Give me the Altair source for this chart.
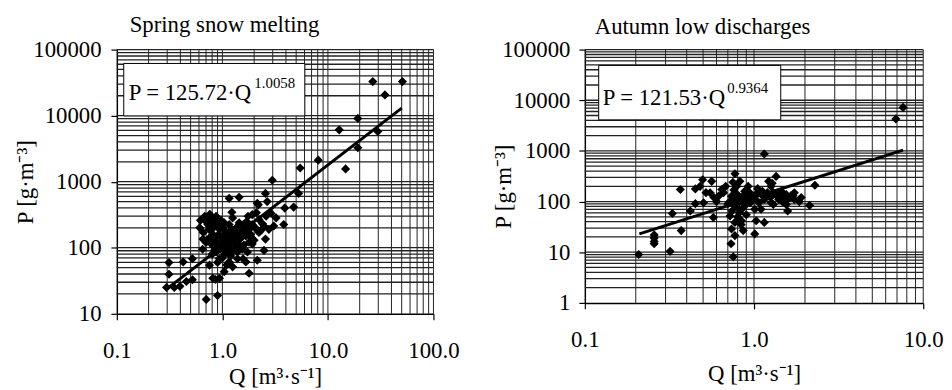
import altair as alt
import pandas as pd

FONT = "Liberation Serif"

# ---------------- Spring snow melting ----------------
spring_q = [26.6, 50.8, 34.7, 19.2, 12.8, 29.7, 19.2, 14.7, 8.1, 5.46, 2.97, 5.27, 4.73, 3.90,
            3.81, 2.56, 2.14, 1.44, 1.16, 0.61,
            0.312, 0.312, 0.296, 0.425, 0.52, 0.396, 0.35, 0.52, 0.703, 0.90, 0.94, 0.86, 0.755,
            1.25, 1.79, 2.14, 1.57, 0.456,
            1.23, 3.23, 1.92, 2.66, 2.19, 0.873, 0.729, 0.811, 0.937, 1.16, 1.30, 1.01, 0.873,
            1.12, 1.44, 1.67, 1.92, 2.22, 2.56, 2.76, 3.07, 2.48, 1.04, 0.811, 1.34, 1.55, 1.16,
            1.39, 1.92, 1.73, 1.01, 0.783, 0.654, 0.937, 2.22, 1.67, 1.44, 1.25, 1.04, 0.842,
            0.79, 0.895, 1.08, 1.22, 1.48, 1.79, 1.16, 0.96, 1.39, 1.67,
            0.70, 0.75, 0.66, 1.10, 1.30, 0.98, 1.60, 1.85, 2.0, 1.2, 0.85, 1.05, 2.4, 2.9, 0.65,
            0.62, 0.68, 0.72, 0.78, 0.82, 0.88, 0.92, 0.97, 1.02, 1.07, 1.15, 1.2, 1.28, 1.35,
            1.4, 1.5, 1.55, 1.62, 1.7, 1.8, 1.9, 2.05, 2.3, 2.5, 0.85, 0.9, 0.95, 1.0, 1.05,
            1.12, 1.18, 1.27, 1.45, 1.6, 0.75, 0.7, 0.8, 1.0, 1.1, 0.9, 2.6, 2.1, 1.75, 0.76]
spring_p = [32800, 32800, 20600, 9080, 6100, 5750, 3270, 1560, 2120, 1610, 1050, 664, 412, 398,
            225, 664, 472, 579, 560, 201,
            59.6, 39.6, 25.1, 61, 68, 26, 25, 32.7, 16.5, 18.9, 34.5, 33, 54.5,
            51.4, 41, 64.6, 68, 30.8,
            344, 283, 317, 500, 446, 300, 225, 160, 190, 225, 151, 114, 86,
            86, 135, 151, 225, 170, 135, 190, 213, 91, 43.4, 34.5, 108, 96, 61,
            86, 114, 86, 151, 114, 135, 68, 267, 213, 239, 283, 239, 225,
            267, 151, 170, 190, 170, 121, 108, 96, 68, 61,
            250, 190, 170, 130, 120, 200, 190, 160, 130, 75, 95, 80, 230, 330, 95,
            260, 300, 280, 240, 200, 260, 230, 260, 200, 140, 160, 140, 175, 200,
            160, 140, 220, 175, 250, 190, 140, 200, 180, 210, 130, 110, 150, 125, 100,
            120, 95, 90, 110, 110, 140, 120, 80, 70, 55, 60, 300, 340, 300, 320]
spring_line_q = [0.3, 50]
spring_line_p = [24, 13000]
spring_x_ticks = [0.1, 1, 10, 100]
spring_y_ticks = [10, 100, 1000, 10000, 100000]

# ---------------- Autumn low discharges ----------------
autumn_q = [7.6, 6.89, 1.15, 0.208, 0.257, 0.257, 0.257, 0.257, 0.319, 0.371, 0.329, 0.367,
            0.45, 0.497, 0.562, 0.55, 0.644, 0.617, 0.45, 0.503, 0.42, 0.575, 0.771, 0.825,
            0.736, 0.805, 0.721, 0.771, 0.843, 0.736, 0.771, 0.863, 0.731, 0.754, 0.944, 0.881,
            1.01, 1.03, 1.01, 1.15, 1.10, 1.13, 1.26, 1.35, 1.22, 1.15, 1.37, 1.45, 1.55, 1.55,
            1.73, 1.73, 1.58, 2.13, 2.29, 1.05, 0.923, 1.26, 1.30,
            0.78, 0.80, 0.84, 0.76, 0.82, 0.88, 0.70, 0.79, 0.86, 0.74, 0.90, 0.95, 1.2, 1.4,
            1.5, 1.65, 1.85, 0.68, 0.60,
            0.72, 0.77, 0.79, 0.81, 0.83, 0.86, 0.89, 0.92, 0.97, 1.02, 1.07, 1.12, 1.18, 1.25,
            1.3, 1.42, 1.47, 1.6, 1.7, 1.9, 1.28, 1.05, 0.75, 0.8, 0.84, 0.9, 0.66, 0.58, 0.52, 0.48]
autumn_p = [7220, 4280, 867, 9.0, 22, 19, 16.3, 14.7, 10.4, 26.7, 58, 173,
            178, 270, 251, 149, 173, 128, 91, 95, 65, 48.6, 354, 251,
            128, 95, 52, 38.8, 41.8, 28.8, 21.3, 26.7, 14.7, 8.1, 149, 82,
            70.5, 41.8, 23, 38.8, 70.5, 128, 200, 314, 251, 110, 128, 160, 138, 88,
            149, 110, 65, 84, 210, 149, 200, 95, 88,
            110, 75, 120, 170, 60, 160, 90, 140, 100, 65, 120, 95, 150, 110,
            120, 130, 100, 200, 100,
            100, 85, 200, 130, 105, 75, 140, 110, 130, 110, 95, 160, 140, 120,
            150, 140, 100, 115, 130, 120, 230, 180, 240, 50, 35, 55, 150, 120, 150, 200]
autumn_line_q = [0.21, 7.6]
autumn_line_p = [23, 1040]
autumn_x_ticks = [0.1, 1, 10]
autumn_y_ticks = [1, 10, 100, 1000, 10000, 100000]

grid_multipliers = [2, 3, 4, 5, 6, 7, 8, 9, 10]

X_TITLE = "Q [m³·s⁻¹]"
Y_TITLE = "P [g·m⁻³]"


def grid_values(ticks):
    return [d * m for d in ticks[:-1] for m in grid_multipliers]


def panel(q, p, lq, lp, xt, yt, title, coef_text, exp_text, w, h, L):
    xs = alt.Scale(type="log", domain=[xt[0], xt[-1]], nice=False)
    ys = alt.Scale(type="log", domain=[yt[0], yt[-1]], nice=False)
    common = dict(grid=False, tickSize=6, labelFont=FONT, titleFont=FONT, labelFontSize=23,
                  titleFontSize=23, labelColor="black", titleColor="black",
                  titleFontWeight="normal", domainColor="black", tickColor="black",
                  domainWidth=1.5, tickWidth=1.2)
    xa = alt.Axis(values=xt, format=".1f", title=X_TITLE, labelPadding=L["xlp"],
                  titleY=L["xty"], labelFlush=False, **common)
    ya = alt.Axis(values=yt, format="d", title=Y_TITLE, labelPadding=L["ylp"],
                  titleX=L["ytx"], titleY=h / 2 + L["yty"], **common)
    X = lambda f: alt.X(f, type="quantitative", scale=xs, axis=xa)
    Y = lambda f: alt.Y(f, type="quantitative", scale=ys, axis=ya)

    vgrid = alt.Chart(pd.DataFrame({"q": grid_values(xt)})).mark_rule(
        color="#222222", strokeWidth=1).encode(x=X("q"))
    hgrid = alt.Chart(pd.DataFrame({"p": grid_values(yt)})).mark_rule(
        color="#222222", strokeWidth=1.3).encode(y=Y("p"))
    line = alt.Chart(pd.DataFrame({"q": lq, "p": lp})).mark_line(
        color="black", strokeWidth=3).encode(x=X("q"), y=Y("p"))
    pts = alt.Chart(pd.DataFrame({"q": q, "p": p})).mark_point(
        shape="diamond", filled=True, color="black", size=85, opacity=1).encode(x=X("q"), y=Y("p"))
    one = pd.DataFrame({"a": [0]})
    bx = L["box"]
    box = alt.Chart(one).mark_rect(fill="white", stroke="black", strokeWidth=1).encode(
        x=alt.value(bx[0]), x2=alt.value(bx[2]), y=alt.value(bx[1]), y2=alt.value(bx[3]))
    eq = alt.Chart(one).mark_text(font=FONT, fontSize=23, align="left", baseline="alphabetic",
                                  color="black", text=coef_text).encode(
        x=alt.value(L["eq"][0]), y=alt.value(L["eq"][1]))
    sup = alt.Chart(one).mark_text(font=FONT, fontSize=15, align="left", baseline="alphabetic",
                                   color="black", text=exp_text).encode(
        x=alt.value(L["sup"][0]), y=alt.value(L["sup"][1]))
    ttl = alt.Chart(one).mark_text(font=FONT, fontSize=23, align="left", baseline="alphabetic",
                                   color="black", text=title).encode(
        x=alt.value(L["title"][0]), y=alt.value(L["title"][1]))
    return alt.layer(vgrid, hgrid, line, pts, box, eq, sup, ttl).properties(width=w, height=h)


left = panel(spring_q, spring_p, spring_line_q, spring_line_p, spring_x_ticks, spring_y_ticks,
             "Spring snow melting", "P = 125.72·Q", "1.0058", 320, 267,
             {"xlp": 20, "xty": 52, "ytx": -80, "yty": 0, "ylp": 10,
              "box": (7, 14, 190, 67), "eq": (12, 51), "sup": (139, 39), "title": (13, -18)})
right = panel(autumn_q, autumn_p, autumn_line_q, autumn_line_p, autumn_x_ticks, autumn_y_ticks,
              "Autumn low discharges", "P = 121.53·Q", "0.9364", 342, 256,
              {"xlp": 20, "xty": 60, "ytx": -70, "yty": 10, "ylp": 9,
               "box": (14, 16, 198, 71), "eq": (18, 56), "sup": (144, 44), "title": (10, -16)})

chart = alt.hconcat(left, right, spacing=34).properties(
    padding={"left": 6, "top": 4, "right": 0, "bottom": 0}
).configure(font=FONT).configure_view(stroke=None)

chart.save("out.html", embed_options={"renderer": "svg", "actions": False})
